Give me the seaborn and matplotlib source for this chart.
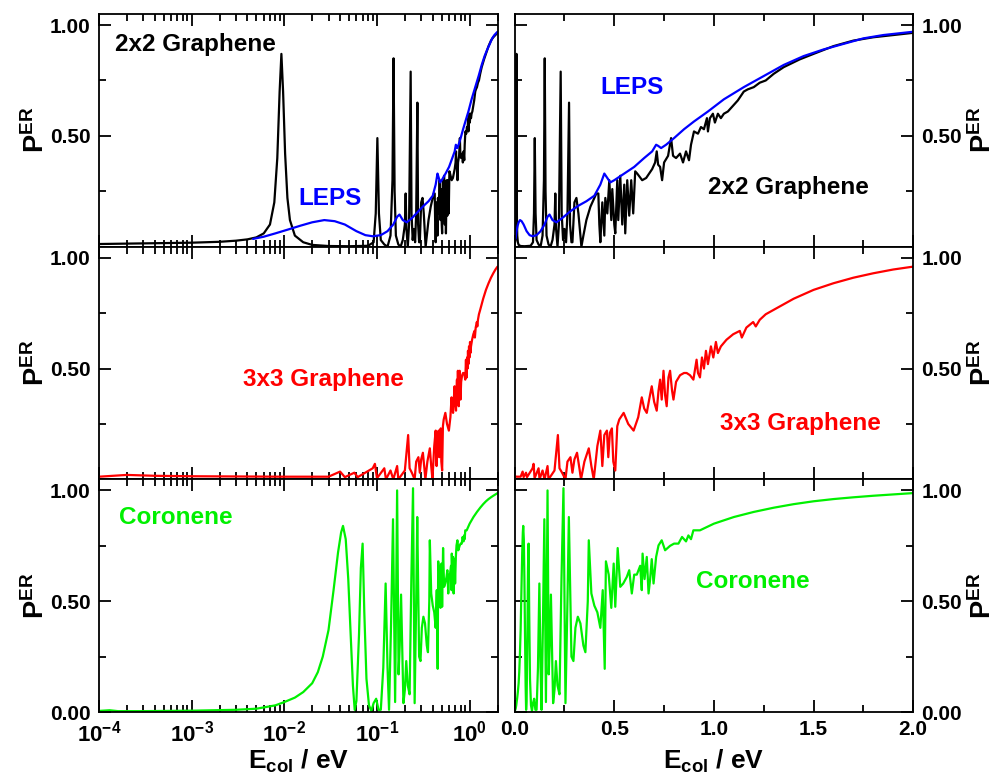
import numpy as np
import pandas as pd
import matplotlib
matplotlib.use("Agg")
import matplotlib.pyplot as plt
import seaborn as sns
from matplotlib.ticker import FixedLocator, FixedFormatter, LogLocator, NullFormatter

# ---------------- data ----------------
E_2x2 = [1e-4, 3e-4, 1e-3, 2e-3, 3e-3, 4e-3, 5e-3, 6e-3, 7e-3, 7.8e-3, 8.4e-3, 8.9e-3, 9.3e-3,
         9.7e-3, 1.02e-2, 1.08e-2, 1.15e-2, 1.3e-2, 1.6e-2, 2.0e-2, 3e-2, 5e-2, 8e-2,
         0.092, 0.097, 0.101, 0.105, 0.11, 0.12, 0.13, 0.14, 0.147, 0.151, 0.155, 0.16, 0.17,
         0.18, 0.19, 0.2, 0.204, 0.208, 0.215, 0.222, 0.231, 0.236, 0.243, 0.25, 0.258, 0.265,
         0.273, 0.278, 0.285, 0.29, 0.30, 0.31, 0.32, 0.335, 0.345, 0.36, 0.38, 0.40, 0.41, 0.42,
         0.425, 0.43, 0.44, 0.45, 0.455, 0.465, 0.475, 0.485, 0.49, 0.50, 0.505, 0.515, 0.52,
         0.53, 0.54, 0.55, 0.555, 0.565, 0.575, 0.585, 0.595, 0.605, 0.615, 0.64, 0.66, 0.69,
         0.705, 0.713, 0.72, 0.73, 0.74, 0.75, 0.77, 0.785, 0.795, 0.81, 0.83, 0.845, 0.86,
         0.875, 0.885, 0.90, 0.92, 0.935, 0.95, 0.965, 0.97, 0.98, 0.995, 1.005, 1.02, 1.035,
         1.05, 1.07, 1.09, 1.12, 1.15, 1.17, 1.20, 1.23, 1.26, 1.30, 1.35, 1.43, 1.50, 1.60,
         1.70, 1.80, 1.90, 2.0]
P_2x2 = [0.012, 0.015, 0.018, 0.022, 0.027, 0.033, 0.042, 0.06, 0.10, 0.20, 0.40, 0.70, 0.87,
         0.70, 0.42, 0.22, 0.12, 0.05, 0.02, 0.008, 0.003, 0.002, 0.004,
         0.02, 0.15, 0.49, 0.15, 0.03, 0.01, 0.0, 0.05, 0.30, 0.85, 0.25, 0.05, 0.01,
         0.0, 0.03, 0.10, 0.24, 0.08, 0.0, 0.10, 0.79, 0.15, 0.03, 0.08, 0.02, 0.15,
         0.65, 0.10, 0.02, 0.02, 0.20, 0.22, 0.15, 0.0, 0.05, 0.12, 0.18, 0.22, 0.24, 0.24,
         0.10, 0.02, 0.20, 0.05, 0.22, 0.15, 0.30, 0.12, 0.26, 0.10, 0.06, 0.30, 0.12,
         0.32, 0.10, 0.28, 0.06, 0.30, 0.14, 0.30, 0.15, 0.34, 0.33, 0.30, 0.31, 0.35,
         0.38, 0.43, 0.37, 0.36, 0.30, 0.38, 0.41, 0.49, 0.41, 0.40, 0.42, 0.38, 0.43,
         0.39, 0.46, 0.52, 0.51, 0.54, 0.53, 0.58, 0.52, 0.58, 0.60, 0.56, 0.60, 0.58,
         0.60, 0.61, 0.63, 0.66, 0.70, 0.71, 0.72, 0.74, 0.75, 0.78, 0.81, 0.845, 0.87, 0.905,
         0.93, 0.945, 0.955, 0.965]

E_leps = [0.0046, 0.006, 0.008, 0.0115, 0.015, 0.02, 0.027, 0.035, 0.045, 0.06, 0.075, 0.09,
          0.11, 0.13, 0.15, 0.165, 0.175, 0.19, 0.21, 0.24, 0.28, 0.32, 0.36, 0.40, 0.43,
          0.45, 0.465, 0.48, 0.50, 0.55, 0.60, 0.65, 0.69, 0.71, 0.72, 0.735, 0.76, 0.80,
          0.85, 0.90, 0.97, 1.05, 1.15, 1.25, 1.35, 1.45, 1.55, 1.65, 1.75, 1.85, 2.0]
P_leps = [0.035, 0.045, 0.06, 0.08, 0.095, 0.11, 0.12, 0.115, 0.10, 0.07, 0.052, 0.047,
          0.052, 0.07, 0.10, 0.135, 0.145, 0.12, 0.11, 0.13, 0.16, 0.185, 0.205, 0.23, 0.28,
          0.33, 0.31, 0.29, 0.30, 0.33, 0.36, 0.40, 0.43, 0.46, 0.455, 0.445, 0.46, 0.49,
          0.53, 0.565, 0.61, 0.665, 0.72, 0.77, 0.82, 0.86, 0.89, 0.915, 0.94, 0.955, 0.97]

E_3x3 = [1e-4, 2e-4, 4e-4, 1e-3, 1e-2, 0.03, 0.04, 0.045, 0.057, 0.062, 0.09, 0.095, 0.1,
         0.12, 0.125, 0.14, 0.15, 0.165, 0.17, 0.2, 0.217, 0.225, 0.238, 0.255, 0.265, 0.28,
         0.29, 0.30, 0.313, 0.325, 0.333, 0.35, 0.372, 0.385, 0.397, 0.415, 0.43, 0.44, 0.45,
         0.463, 0.47, 0.478, 0.488, 0.495, 0.505, 0.515, 0.525, 0.547, 0.57, 0.597, 0.62,
         0.638, 0.65, 0.663, 0.675, 0.688, 0.70, 0.713, 0.722, 0.73, 0.738, 0.747, 0.755,
         0.763, 0.772, 0.78, 0.79, 0.797, 0.81, 0.83, 0.85, 0.863, 0.88, 0.897, 0.913, 0.92,
         0.93, 0.94, 0.95, 0.96, 0.97, 0.985, 0.997, 1.01, 1.02, 1.035, 1.063, 1.097, 1.13,
         1.14, 1.163, 1.197, 1.21, 1.23, 1.26, 1.30, 1.40, 1.50, 1.60, 1.70, 1.80, 1.90, 2.0]
P_3x3 = [0.012, 0.02, 0.016, 0.014, 0.012, 0.012, 0.035, 0.01, 0.03, 0.01, 0.05, 0.07, 0.005,
         0.05, 0.0, 0.04, 0.0, 0.06, 0.0, 0.04, 0.20, 0.05, 0.03, 0.0, 0.08, 0.10,
         0.03, 0.09, 0.12, 0.05, 0.0, 0.08, 0.14, 0.06, 0.0, 0.15, 0.22, 0.06, 0.20,
         0.22, 0.10, 0.21, 0.23, 0.08, 0.04, 0.24, 0.27, 0.30, 0.25, 0.22, 0.28,
         0.37, 0.32, 0.30, 0.36, 0.42, 0.35, 0.31, 0.40, 0.45, 0.36, 0.49, 0.38,
         0.33, 0.46, 0.49, 0.40, 0.36, 0.44, 0.47, 0.48, 0.48, 0.47, 0.45, 0.54, 0.48,
         0.46, 0.55, 0.50, 0.58, 0.52, 0.60, 0.55, 0.62, 0.57, 0.60, 0.63, 0.655, 0.67,
         0.64, 0.685, 0.71, 0.69, 0.72, 0.745, 0.765, 0.815, 0.855, 0.885, 0.91, 0.93, 0.947, 0.96]

E_cor = [1e-4, 1.3e-4, 1.6e-4, 3e-4, 1e-3, 3e-3, 5e-3, 8e-3, 0.01, 0.013, 0.016, 0.02, 0.023,
         0.026, 0.03, 0.034, 0.038, 0.041, 0.043, 0.046, 0.049, 0.052, 0.055, 0.0575, 0.06,
         0.064, 0.067, 0.07, 0.073, 0.077, 0.082, 0.087, 0.092, 0.098, 0.104, 0.11, 0.117,
         0.124, 0.13, 0.135, 0.142, 0.149, 0.157, 0.165, 0.171, 0.176, 0.182, 0.193, 0.2,
         0.207, 0.215, 0.225, 0.235, 0.245, 0.255, 0.265, 0.272, 0.285, 0.295, 0.305, 0.317,
         0.33, 0.345, 0.355, 0.367, 0.372, 0.385, 0.40, 0.415, 0.43, 0.442, 0.452, 0.458,
         0.472, 0.485, 0.497, 0.505, 0.517, 0.53, 0.545, 0.563, 0.575, 0.588, 0.60, 0.613,
         0.63, 0.638, 0.642, 0.652, 0.663, 0.672, 0.68, 0.688, 0.697, 0.71, 0.722, 0.738,
         0.755, 0.78, 0.80, 0.822, 0.84, 0.86, 0.872, 0.885, 0.897, 0.93, 1.0, 1.1, 1.2, 1.3,
         1.4, 1.5, 1.6, 1.7, 1.8, 1.9, 2.0]
P_cor = [0.005, 0.008, 0.004, 0.004, 0.006, 0.01, 0.015, 0.03, 0.045, 0.065, 0.09, 0.13, 0.18,
         0.25, 0.37, 0.55, 0.72, 0.81, 0.84, 0.78, 0.60, 0.35, 0.12, 0.01, 0.05,
         0.35, 0.65, 0.76, 0.45, 0.15, 0.03, 0.005, 0.04, 0.06, 0.01, 0.01, 0.20,
         0.58, 0.20, 0.01, 0.40, 0.87, 0.045, 1.0, 0.17, 0.30, 0.53, 0.04, 0.10,
         0.23, 0.12, 0.08, 0.60, 1.01, 0.04, 0.50, 0.88, 0.25, 0.23, 0.38, 0.43,
         0.40, 0.30, 0.27, 0.50, 0.775, 0.535, 0.48, 0.45, 0.38, 0.55, 0.195, 0.68,
         0.62, 0.47, 0.67, 0.475, 0.74, 0.565, 0.58, 0.61, 0.64, 0.535, 0.62, 0.62,
         0.66, 0.55, 0.715, 0.60, 0.70, 0.535, 0.60, 0.69, 0.58, 0.70, 0.752, 0.775,
         0.73, 0.75, 0.76, 0.76, 0.79, 0.77, 0.797, 0.78, 0.82, 0.82, 0.85, 0.88, 0.903, 0.922,
         0.938, 0.951, 0.961, 0.969, 0.976, 0.982, 0.988]

# ---------------- style ----------------
sns.set_theme(style="ticks")
plt.rcParams['font.family'] = ['Liberation Sans', 'DejaVu Sans']
plt.rcParams['font.weight'] = 'bold'
plt.rcParams['axes.labelweight'] = 'bold'
plt.rcParams['mathtext.fontset'] = 'custom'
plt.rcParams['mathtext.rm'] = 'Liberation Sans:bold'
plt.rcParams['mathtext.bf'] = 'Liberation Sans:bold'
plt.rcParams['mathtext.it'] = 'Liberation Sans:bold'
plt.rcParams['mathtext.default'] = 'bf'
plt.rcParams['axes.linewidth'] = 1.3
for k in ['text.color', 'axes.labelcolor', 'xtick.color', 'ytick.color',
          'xtick.labelcolor', 'ytick.labelcolor', 'axes.edgecolor']:
    plt.rcParams[k] = 'black'

GREEN = '#00f000'
fig, axes = plt.subplots(3, 2, figsize=(9.98, 7.78), dpi=100)
fig.subplots_adjust(left=0.0992, right=0.915, top=0.982, bottom=0.0848, wspace=0.043, hspace=0.0)

rows = [
    [(E_2x2, P_2x2, 'black'), (E_leps, P_leps, '#0000ff')],
    [(E_3x3, P_3x3, '#ff0000')],
    [(E_cor, P_cor, GREEN)],
]

texts_left = [
    [("2x2 Graphene", 0.040, 0.871, 'black'), ("LEPS", 0.50, 0.207, '#0000ff')],
    [("3x3 Graphene", 0.361, 0.43, '#ff0000')],
    [("Coronene", 0.049, 0.836, GREEN)],
]
texts_right = [
    [("LEPS", 0.2155, 0.685, '#0000ff'), ("2x2 Graphene", 0.486, 0.254, 'black')],
    [("3x3 Graphene", 0.516, 0.24, '#ff0000')],
    [("Coronene", 0.456, 0.559, GREEN)],
]

ylab = r'$\mathbf{P^{ER}}$'
xlab = r'$\mathbf{E_{col}}$' + ' / eV'
tick_fs = 15
lab_fs = 19.5
ann_fs = 17.5

for r in range(3):
    for c in range(2):
        ax = axes[r, c]
        for (E, P, col) in rows[r]:
            df = pd.DataFrame({'E': E, 'P': P})
            sns.lineplot(data=df, x='E', y='P', ax=ax, color=col, lw=1.6,
                         estimator=None, sort=False, legend=False)
        ax.set_ylim(0, 1.05)
        ax.yaxis.set_major_locator(FixedLocator([0.0, 0.5, 1.0]))
        ax.yaxis.set_minor_locator(FixedLocator([0.25, 0.75]))
        if r == 2:
            ax.yaxis.set_major_formatter(FixedFormatter(['0.00', '0.50', '1.00']))
        else:
            ax.yaxis.set_major_formatter(FixedFormatter(['', '0.50', '1.00']))
        if c == 0:
            ax.set_xscale('log')
            ax.set_xlim(1e-4, 2.0)
            ax.xaxis.set_major_locator(FixedLocator([1e-4, 1e-3, 1e-2, 1e-1, 1e0]))
            ax.xaxis.set_minor_locator(LogLocator(base=10, subs=np.arange(2, 10), numticks=20))
            ax.xaxis.set_minor_formatter(NullFormatter())
            if r == 2:
                ax.xaxis.set_major_formatter(FixedFormatter(
                    [r'$\mathbf{10^{-4}}$', r'$\mathbf{10^{-3}}$', r'$\mathbf{10^{-2}}$',
                     r'$\mathbf{10^{-1}}$', r'$\mathbf{10^{0}}$']))
            else:
                ax.xaxis.set_major_formatter(NullFormatter())
            ax.tick_params(axis='y', which='both', left=True, right=True,
                           labelleft=True, labelright=False)
            ax.set_ylabel(ylab, fontsize=lab_fs)
            ax.yaxis.set_label_coords(-0.122, 0.5)
            tl = texts_left[r]
        else:
            ax.set_xlim(0, 2.0)
            ax.xaxis.set_major_locator(FixedLocator([0.0, 0.5, 1.0, 1.5, 2.0]))
            ax.xaxis.set_minor_locator(FixedLocator([0.25, 0.75, 1.25, 1.75]))
            if r == 2:
                ax.xaxis.set_major_formatter(FixedFormatter(['0.0', '0.5', '1.0', '1.5', '2.0']))
            else:
                ax.xaxis.set_major_formatter(NullFormatter())
            ax.tick_params(axis='y', which='both', left=True, right=True,
                           labelleft=False, labelright=True)
            ax.yaxis.set_label_position('right')
            ax.set_ylabel(ylab, fontsize=lab_fs, rotation=90)
            ax.yaxis.set_label_coords(1.140, 0.5)
            tl = texts_right[r]
        ax.tick_params(axis='x', which='both', bottom=True, top=True,
                       labelbottom=(r == 2), labeltop=False)
        ax.tick_params(which='both', direction='in', width=1.3, labelsize=tick_fs,
                       color='black', labelcolor='black')
        ax.tick_params(which='major', length=8.5)
        ax.tick_params(which='minor', length=5)
        ax.tick_params(axis='y', which='major', pad=6)
        ax.tick_params(axis='x', which='major', pad=6)
        if c == 0 and r == 2:
            ax.tick_params(axis='x', which='major', labelsize=16)
        for s in ax.spines.values():
            s.set_visible(True)
            s.set_color('black')
        if r == 2:
            ax.set_xlabel(xlab, fontsize=lab_fs - 0.5, fontweight='bold', color='black')
            ax.xaxis.set_label_coords(0.5, -0.155)
        else:
            ax.set_xlabel('')
        for (t, x, y, col) in tl:
            ax.text(x, y, t, transform=ax.transAxes, color=col, fontsize=ann_fs,
                    fontweight='bold', ha='left', va='center')

fig.savefig('out.png', dpi=100)
